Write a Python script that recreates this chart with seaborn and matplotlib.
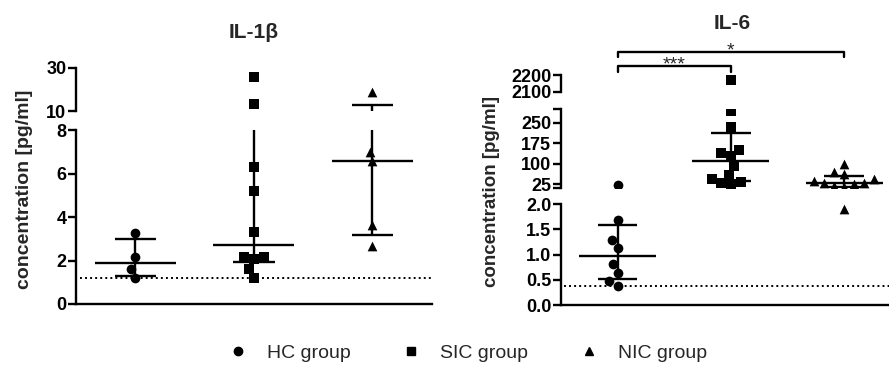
import matplotlib
matplotlib.use("Agg")
import matplotlib.pyplot as plt
from matplotlib.lines import Line2D
from matplotlib.transforms import blended_transform_factory
import numpy as np
import pandas as pd
import seaborn as sns

# ---------------------------------------------------------------- data
groups = ["HC", "SIC", "NIC"]
group_markers = ["o", "s", "^"]
legend_labels = ["HC group", "SIC group", "NIC group"]

il1b_hc = [3.26, 2.17, 1.6, 1.2]
il1b_sic = [25.8, 13.4, 6.3, 5.2, 3.3, 2.05, 2.17, 2.17, 1.6, 1.2]
il1b_nic = [18.9, 7.0, 6.57, 3.63, 2.67]
il1b_lod = 1.18

il6_hc = [22, 1.69, 1.29, 1.13, 0.81, 0.64, 0.48, 0.38]
il6_sic = [2170, 291, 235, 149, 140, 128, 91, 60, 44, 35, 29, 25]
il6_nic = [99, 71, 61, 43, 38, 31, 31, 26, 19, 16, 8, 1.9]
il6_lod = 0.38

# y-axis segments (low, high, ticks, tick labels)
il1b_segments = [
    (0, 8, [0, 2, 4, 6, 8], ["0", "2", "4", "6", "8"]),
    (10, 30, [10, 30], ["10", "30"]),
]
il6_segments = [
    (0, 2, [0, 0.5, 1.0, 1.5, 2.0], ["0.0", "0.5", "1.0", "1.5", "2.0"]),
    (12, 300, [12, 25, 100, 175, 250, 300], ["", "25", "100", "175", "250", ""]),
    (2100, 2200, [2100, 2200], ["2100", "2200"]),
]

# ---------------------------------------------------------------- style
sns.set_style("ticks")
plt.rcParams["font.family"] = ["Liberation Sans", "DejaVu Sans"]

W, H = 889, 365
fig = plt.figure(figsize=(W / 100, H / 100), dpi=100)


def px_axes(x0, x1, ytop, ybot):
    return fig.add_axes([x0 / W, 1 - ybot / H, (x1 - x0) / W, (ybot - ytop) / H])


def draw_panel(data, lod, segments, x0, x1, boxes, xmax):
    axes = []
    for k, ((lo, hi, ticks, labels), (ytop, ybot)) in enumerate(zip(segments, boxes)):
        ax = px_axes(x0, x1, ytop, ybot)
        for i, g in enumerate(groups):
            vals = [v for v in data[i] if lo <= v <= hi]
            if vals:
                df = pd.DataFrame({"group": g, "value": vals})
                sns.swarmplot(data=df, x="group", y="value", order=groups,
                              marker=group_markers[i], color="black", size=7,
                              ax=ax, zorder=3)
            q1, med, q3 = np.percentile(data[i], [25, 50, 75], method="weibull")
            ax.hlines(med, i - 0.34, i + 0.34, color="black", lw=1.7, zorder=4)
            ax.hlines([q1, q3], i - 0.175, i + 0.175, color="black", lw=1.7, zorder=4)
            ax.vlines(i, q1, q3, color="black", lw=1.7, zorder=4)
        ax.set_xlim(-0.5, xmax)
        ax.set_ylim(lo, hi)
        ax.set_xlabel("")
        ax.set_ylabel("")
        ax.set_xticks([])
        ax.set_yticks(ticks, labels)
        for t in ax.get_yticklabels():
            t.set_fontweight("bold")
            t.set_fontsize(13)
        ax.tick_params(axis="y", length=6, width=1.7, pad=1, colors="black")
        ax.patch.set_alpha(0)
        for s in ax.spines.values():
            s.set_linewidth(1.7)
            s.set_color("black")
        if k == 0:
            sns.despine(ax=ax)
            ax.axhline(lod, xmin=0.01, color="black", lw=1.4, ls=(0, (1, 1.6)), zorder=1)
        else:
            sns.despine(ax=ax, bottom=True)
        axes.append(ax)
    return axes


left_axes = draw_panel([il1b_hc, il1b_sic, il1b_nic], il1b_lod, il1b_segments,
                       76, 431.6, [(130, 304), (67.7, 111)], 2.5)
right_axes = draw_panel([il6_hc, il6_sic, il6_nic], il6_lod, il6_segments,
                        561, 889, [(204.3, 305), (109, 187.9), (75, 91.7)], 2.395)

# significance brackets
top = right_axes[-1]
trans = blended_transform_factory(top.transData, fig.transFigure)
for (a, b), y_line, y_end, stars, y_txt in [((0, 1), 66, 71.7, "***", 69.5),
                                             ((0, 2), 51.7, 57.3, "*", 55.4)]:
    top.plot([a, a, b, b], [1 - y_end / H, 1 - y_line / H, 1 - y_line / H, 1 - y_end / H],
             color="black", lw=1.7, transform=trans, clip_on=False)
    top.text((a + b) / 2, 1 - y_txt / H, stars, transform=trans, ha="center",
             va="baseline", fontsize=14)

# titles and axis labels
fig.text(254 / W, 1 - 33 / H, "IL-1β", ha="center", va="center", fontsize=15, fontweight="bold")
fig.text(731.7 / W, 1 - 23.3 / H, "IL-6", ha="center", va="center", fontsize=15, fontweight="bold")
fig.text(25 / W, 1 - 189.5 / H, "concentration [pg/ml]", rotation=90, ha="center",
         va="center", fontsize=14, fontweight="bold")
fig.text(492 / W, 1 - 191.5 / H, "concentration [pg/ml]", rotation=90, ha="center",
         va="center", fontsize=13.5, fontweight="bold")

handles = [Line2D([], [], marker=m, color="black", linestyle="None", markersize=6)
           for m in group_markers]
fig.legend(handles, legend_labels, loc="center", bbox_to_anchor=(0.526, 1 - 353 / H),
           ncol=3, frameon=False, fontsize=14, handlelength=1, handletextpad=1.0,
           columnspacing=2.6)

fig.savefig("out.png", dpi=100)
